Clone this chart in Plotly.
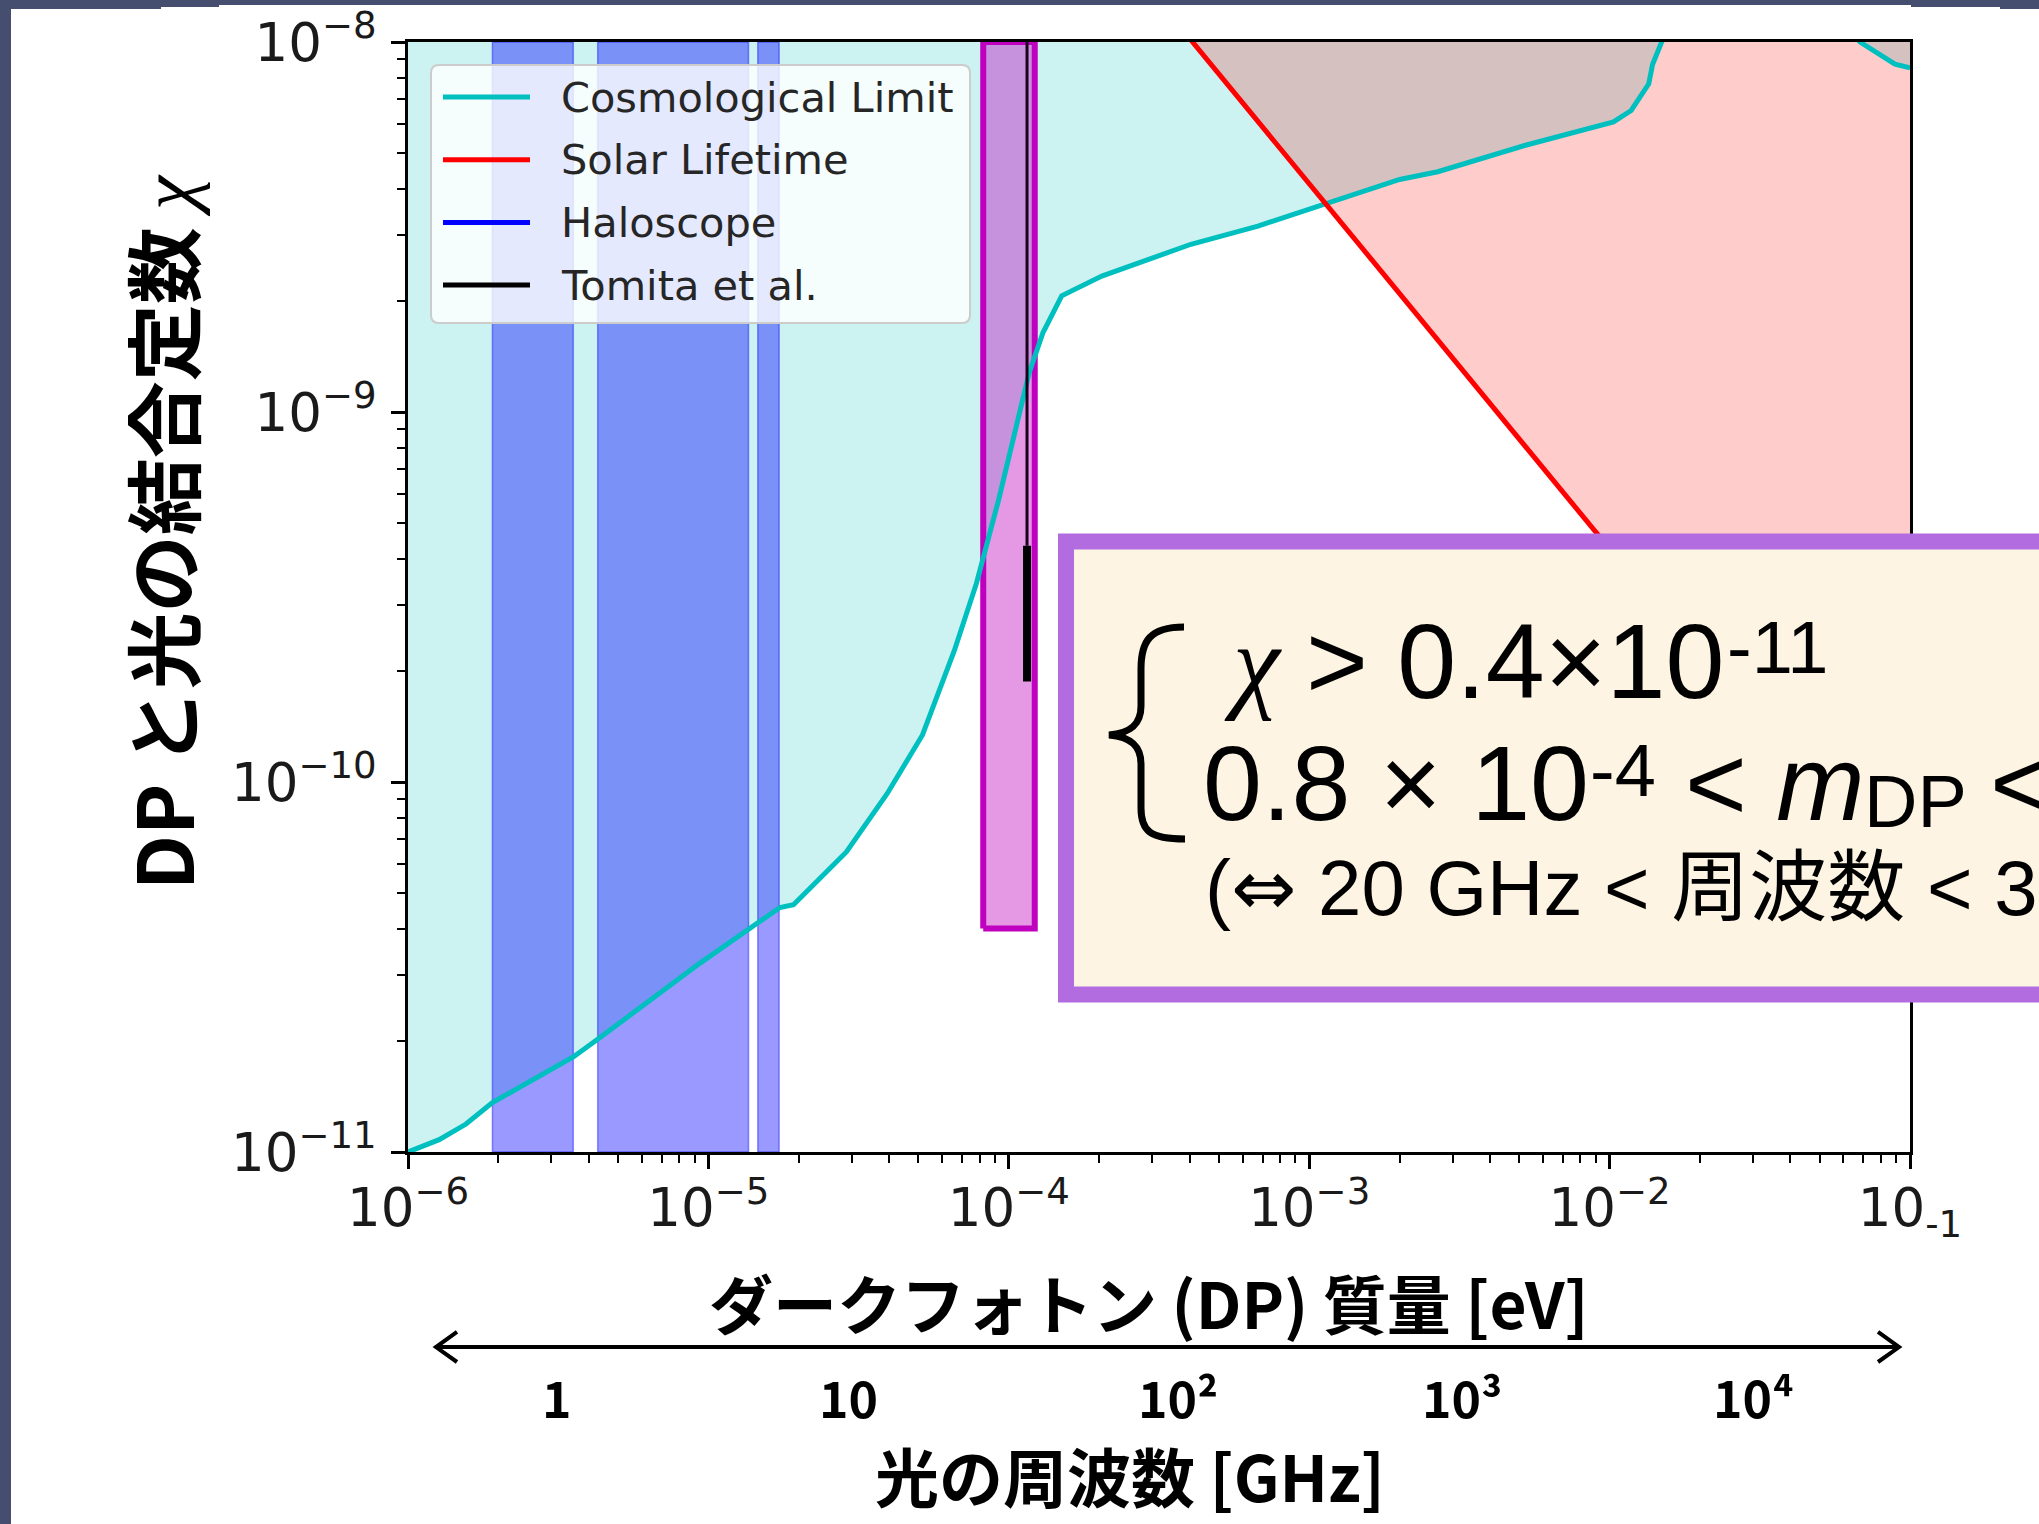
import plotly.graph_objects as go

# ---------------- data ----------------
# Cosmological limit: dark-photon mass [eV] vs kinetic mixing chi
cosmo_mass = [1.00e-6, 1.27e-6, 1.56e-6, 1.91e-6, 3.56e-6, 4.29e-6, 9.38e-6, 1.73e-5, 1.92e-5, 2.88e-5,
              3.94e-5, 5.16e-5, 6.58e-5, 7.80e-5, 9.25e-5, 1.17e-4, 1.30e-4, 1.50e-4, 2.04e-4, 2.86e-4,
              4.04e-4, 6.75e-4, 1.13e-3, 2.00e-3, 2.68e-3, 5.25e-3, 1.03e-2, 1.18e-2, 1.35e-2, 1.39e-2,
              1.49e-2, 2.00e-2, 4.00e-2, 6.81e-2, 8.91e-2, 1.00e-1]
cosmo_chi = [1.00e-11, 1.08e-11, 1.19e-11, 1.36e-11, 1.81e-11, 2.02e-11, 3.24e-11, 4.58e-11, 4.66e-11, 6.47e-11,
             9.31e-11, 1.34e-10, 2.26e-10, 3.44e-10, 5.79e-10, 1.28e-9, 1.64e-9, 2.06e-9, 2.33e-9, 2.58e-9,
             2.84e-9, 3.18e-9, 3.64e-9, 4.25e-9, 4.46e-9, 5.26e-9, 6.08e-9, 6.53e-9, 7.71e-9, 8.69e-9,
             1.00e-8, 1.60e-8, 1.80e-8, 1.00e-8, 8.71e-9, 8.51e-9]

# Solar lifetime bound
solar_mass = [3.16e-4, 4.09e-4, 7.94e-4, 1.36e-3, 1.95e-3, 2.87e-3, 4.23e-3, 6.35e-3, 9.18e-3,
              2.00e-2, 4.47e-2, 1.00e-1]
solar_chi = [1.29e-8, 1.00e-8, 5.20e-9, 3.05e-9, 2.15e-9, 1.47e-9, 1.00e-9, 6.70e-10, 4.67e-10,
             2.15e-10, 9.80e-11, 4.40e-11]

# Haloscope exclusion bands (mass ranges)
halo_lo = [1.91e-6, 4.28e-6, 1.46e-5]
halo_hi = [3.55e-6, 1.36e-5, 1.72e-5]

# Target region (20-30 GHz) and Tomita et al. result
target_mass = [8.22e-5, 1.22e-4]
target_chi_floor = 4.02e-11
tomita_mass = 1.15e-4
tomita_thin_chi = [1.00e-8, 4.35e-10]
tomita_thick_chi = [4.35e-10, 1.87e-10]

# Axis limits and labels
MASS_MIN, MASS_MAX = 1e-6, 1e-1
CHI_MIN, CHI_MAX = 1e-11, 1e-8
x_tick_vals = [1e-6, 1e-5, 1e-4, 1e-3, 1e-2, 1e-1]
x_tick_text = ["10<sup>−6</sup>", "10<sup>−5</sup>", "10<sup>−4</sup>", "10<sup>−3</sup>",
               "10<sup>−2</sup>", "10<sub>-1</sub>"]
y_tick_vals = [1e-11, 1e-10, 1e-9, 1e-8]
y_tick_text = ["10<sup>−11</sup>", "10<sup>−10</sup>", "10<sup>−9</sup>", "10<sup>−8</sup>"]

legend_labels = ["Cosmological Limit", "Solar Lifetime", "Haloscope", "Tomita et al."]
legend_colors = ["#00bfbf", "#ff0000", "#0000ff", "#000000"]

freq_labels = ["1", "10", "10²", "10³", "10⁴"]

# ---------------- page geometry ----------------
W, H = 2039, 1524
ML, MR, MT, MB = 408, 129, 42, 372
PW, PH = W - ML - MR, H - MT - MB


def px(x):
    return (x - ML) / PW


def py(y):
    return (H - MB - y) / PH


CYAN = "#00bfbf"
MAGENTA = "rgb(191,0,191)"

fig = go.Figure()

# cosmological exclusion: region above the curve
cf_x = cosmo_mass + [cosmo_mass[-1], cosmo_mass[0]]
cf_y = [min(c, CHI_MAX) for c in cosmo_chi] + [CHI_MAX, CHI_MAX]
fig.add_trace(go.Scatter(x=cf_x, y=cf_y, mode="lines", fill="toself",
                         fillcolor="rgba(0,191,191,0.2)", line=dict(width=0, color="rgba(0,0,0,0)"),
                         hoverinfo="skip"))

# solar lifetime exclusion: region above/right of the line
sf_x = [min(m, MASS_MAX) for m in solar_mass] + [MASS_MAX]
sf_y = [min(c, CHI_MAX) for c in solar_chi] + [CHI_MAX]
fig.add_trace(go.Scatter(x=sf_x, y=sf_y, mode="lines", fill="toself",
                         fillcolor="rgba(255,0,0,0.2)", line=dict(width=0, color="rgba(0,0,0,0)"),
                         hoverinfo="skip"))

# haloscope bands
for lo, hi in zip(halo_lo, halo_hi):
    fig.add_trace(go.Scatter(x=[lo, hi, hi, lo, lo], y=[CHI_MIN, CHI_MIN, CHI_MAX, CHI_MAX, CHI_MIN],
                             mode="lines", fill="toself", fillcolor="rgba(0,0,255,0.4)",
                             line=dict(width=1.5, color="rgba(0,0,255,0.4)"), hoverinfo="skip"))

# target region
m0, m1 = target_mass
fig.add_trace(go.Scatter(x=[m0, m1, m1, m0, m0],
                         y=[target_chi_floor, target_chi_floor, CHI_MAX, CHI_MAX, target_chi_floor],
                         mode="lines", fill="toself", fillcolor="rgba(191,0,191,0.4)",
                         line=dict(width=6, color=MAGENTA), hoverinfo="skip"))

# limit curves
fig.add_trace(go.Scatter(x=cosmo_mass, y=cosmo_chi, mode="lines",
                         line=dict(color=CYAN, width=5), hoverinfo="skip"))
fig.add_trace(go.Scatter(x=solar_mass, y=solar_chi, mode="lines",
                         line=dict(color="#ff0000", width=5), hoverinfo="skip"))

# Tomita et al.
fig.add_trace(go.Scatter(x=[tomita_mass, tomita_mass], y=tomita_thin_chi, mode="lines",
                         line=dict(color="#1a001a", width=3), hoverinfo="skip"))
fig.add_trace(go.Scatter(x=[tomita_mass, tomita_mass], y=tomita_thick_chi, mode="lines",
                         line=dict(color="black", width=8), hoverinfo="skip"))

minor_x = [k * 10.0 ** e for e in range(-6, -1) for k in range(2, 10)]
minor_y = [k * 10.0 ** e for e in range(-11, -8) for k in range(2, 10)]

tick_font = dict(family="DejaVu Sans", size=53, color="#1a1a1a")
fig.update_xaxes(type="log", range=[-6, -1], tickvals=x_tick_vals, ticktext=x_tick_text,
                 ticks="outside", ticklen=14, tickwidth=2.5, tickcolor="black",
                 showline=True, linecolor="black", linewidth=2.5, mirror=True,
                 showgrid=False, zeroline=False, tickfont=tick_font, ticklabelstandoff=-6,
                 minor=dict(tickvals=minor_x, ticks="outside", ticklen=8, tickwidth=2,
                            tickcolor="black", showgrid=False))
fig.update_yaxes(type="log", range=[-11, -8], tickvals=y_tick_vals, ticktext=y_tick_text,
                 ticks="outside", ticklen=14, tickwidth=2.5, tickcolor="black",
                 showline=True, linecolor="black", linewidth=2.5, mirror=True,
                 showgrid=False, zeroline=False, tickfont=tick_font, ticklabelstandoff=4,
                 minor=dict(tickvals=minor_y, ticks="outside", ticklen=8, tickwidth=2,
                            tickcolor="black", showgrid=False))

shapes = []
annotations = []

# slide frame strips
SLATE = "#464e6f"
for x0, x1, y0, y1 in [(0, 11, 0, H), (0, W, 0, 5), (0, 161, 0, 9), (161, 219, 0, 7),
                       (1911, 2000, 0, 7), (2000, W, 0, 9)]:
    shapes.append(dict(type="rect", xref="paper", yref="paper", x0=px(x0), x1=px(x1),
                       y0=py(y1), y1=py(y0), fillcolor=SLATE, line=dict(width=0), layer="above"))


def path_px(cmds):
    out = []
    for c in cmds:
        if isinstance(c, str):
            out.append(c)
        else:
            out.append(f"{px(c[0]):.5f},{py(c[1]):.5f}")
    return " ".join(out)


# legend frame (rounded corners)
lx0, ly0, lx1, ly1, r = 431, 65, 970, 323, 8
shapes.append(dict(type="path", xref="paper", yref="paper", layer="above",
                   path=path_px(["M", (lx0 + r, ly0), "L", (lx1 - r, ly0), "Q", (lx1, ly0), (lx1, ly0 + r),
                                 "L", (lx1, ly1 - r), "Q", (lx1, ly1), (lx1 - r, ly1),
                                 "L", (lx0 + r, ly1), "Q", (lx0, ly1), (lx0, ly1 - r),
                                 "L", (lx0, ly0 + r), "Q", (lx0, ly0), (lx0 + r, ly0), "Z"]),
                   fillcolor="rgba(255,255,255,0.8)", line=dict(color="#cccccc", width=2)))
for i, (lab, col) in enumerate(zip(legend_labels, legend_colors)):
    yy = 97 + i * 62.7
    shapes.append(dict(type="line", xref="paper", yref="paper", layer="above",
                       x0=px(443), x1=px(530), y0=py(yy), y1=py(yy), line=dict(color=col, width=5)))
    annotations.append(dict(text=lab, xref="paper", yref="paper", x=px(559), y=py(yy),
                            xanchor="left", yanchor="middle", showarrow=False,
                            font=dict(family="DejaVu Sans", size=41.5, color="#262626")))

# double-headed arrow below the mass axis
shapes.append(dict(type="line", xref="paper", yref="paper", layer="above",
                   x0=px(438), x1=px(1897), y0=py(1347), y1=py(1347), line=dict(color="black", width=4)))
for tip, back in [(436, 457), (1899, 1878)]:
    shapes.append(dict(type="path", xref="paper", yref="paper", layer="above",
                       path=path_px(["M", (back, 1332), "L", (tip, 1347), "L", (back, 1362)]),
                       line=dict(color="black", width=4)))

# summary box
shapes.append(dict(type="rect", xref="paper", yref="paper", layer="above",
                   x0=px(1066), x1=px(2090), y0=py(994.5), y1=py(541.5),
                   fillcolor="#fdf4e3", line=dict(color="#b36ce0", width=16)))
shapes.append(dict(type="path", xref="paper", yref="paper", layer="above",
                   path=path_px(["M", (1184, 627), "C", (1150, 627), (1141, 641), (1141, 669),
                                 "L", (1141, 706), "C", (1141, 724), (1131, 733), (1109, 735),
                                 "C", (1131, 737), (1141, 746), (1141, 764),
                                 "L", (1141, 808), "C", (1141, 831), (1150, 839), (1185, 839)]),
                   line=dict(color="black", width=7)))

SANS = "Liberation Sans, Noto Sans CJK JP"
DESC = {"sans": 0.212, "serif": 0.216}


def text_at(text, x, baseline, size, family=SANS, kind="sans", color="black"):
    annotations.append(dict(text=text, xref="paper", yref="paper", x=px(x),
                            y=py(baseline + DESC[kind] * size + 2),
                            xanchor="left", yanchor="bottom", showarrow=False,
                            font=dict(family=family, size=size, color=color)))


# line 1: chi > 0.4x10^-11
text_at("<i>χ</i>", 1222, 698, 106, family="Liberation Serif", kind="serif")
text_at("> 0.4×10", 1304, 698, 106)
text_at("-11", 1725, 673, 74)
# line 2: 0.8 x 10^-4 < m_DP <
text_at("0.8 × 10", 1201, 820, 106)
text_at("-4", 1588, 796, 74)
text_at("< <i>m</i>", 1683, 820, 106)
text_at("DP", 1862, 827, 74)
text_at("<", 1988, 820, 106)
# line 3: frequency range
text_at('(<span style="font-family:DejaVu Sans">⇔</span> 20 GHz < 周波数 < 3', 1203, 916, 78)

# axis titles
annotations.append(dict(text='<b>DP と光の結合定数</b> <i><span style="font-family:Liberation Serif">χ</span></i>',
                        xref="paper", yref="paper", x=px(160), y=py(532), textangle=-90,
                        xanchor="center", yanchor="middle", showarrow=False,
                        font=dict(family="Noto Sans CJK JP", size=77, color="black")))
annotations.append(dict(text="<b>ダークフォトン (DP) 質量 [eV]</b>", xref="paper", yref="paper",
                        x=px(1149), y=py(1301), xanchor="center", yanchor="middle", showarrow=False,
                        font=dict(family="Noto Sans CJK JP", size=64, color="black")))
for lab, xc in zip(freq_labels, [557, 848, 1178, 1462, 1753]):
    annotations.append(dict(text=f"<b>{lab}</b>", xref="paper", yref="paper",
                            x=px(xc), y=py(1396), xanchor="center", yanchor="middle", showarrow=False,
                            font=dict(family="Noto Sans CJK JP", size=50, color="black")))
annotations.append(dict(text="<b>光の周波数 [GHz]</b>", xref="paper", yref="paper",
                        x=px(1130), y=py(1474), xanchor="center", yanchor="middle", showarrow=False,
                        font=dict(family="Noto Sans CJK JP", size=64, color="black")))

fig.update_layout(width=W, height=H, margin=dict(l=ML, r=MR, t=MT, b=MB, autoexpand=False),
                  paper_bgcolor="white", plot_bgcolor="white", showlegend=False,
                  shapes=shapes, annotations=annotations)

fig.write_html("out.html")
